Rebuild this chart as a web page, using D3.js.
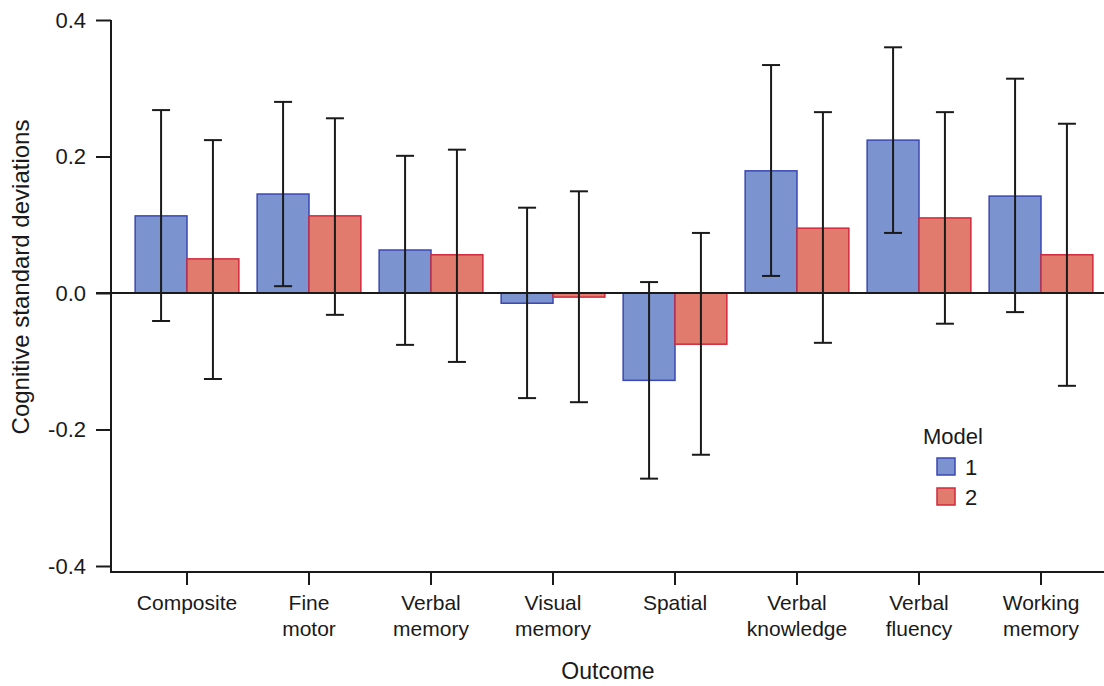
<!DOCTYPE html>
<html lang="en">
  <head>
    <meta charset="utf-8">
    <title>Cognitive outcomes by model</title>
    <style>
      body { margin: 0; background: #fff; }
      svg { display: block; font-family: "Liberation Sans", Arial, sans-serif; }
    </style>
  </head>
  <body>
    <svg id="canvas"></svg>
    <script src="https://cdn.jsdelivr.net/npm/d3@7"></script>
    <script>
      const width = 1104;
      const height = 686;

      // data
      const categories = [
        ["Composite"], ["Fine", "motor"], ["Verbal", "memory"], ["Visual", "memory"],
        ["Spatial"], ["Verbal", "knowledge"], ["Verbal", "fluency"], ["Working", "memory"]
      ];
      const models = ["1", "2"];
      const model1 = [0.113, 0.145, 0.063, -0.015, -0.128, 0.179, 0.224, 0.142];
      const model1Low = [-0.041, 0.010, -0.076, -0.154, -0.272, 0.025, 0.088, -0.028];
      const model1High = [0.268, 0.280, 0.201, 0.125, 0.016, 0.334, 0.360, 0.314];
      const model2 = [0.050, 0.113, 0.056, -0.006, -0.075, 0.095, 0.110, 0.056];
      const model2Low = [-0.126, -0.032, -0.101, -0.160, -0.237, -0.073, -0.045, -0.136];
      const model2High = [0.224, 0.256, 0.210, 0.149, 0.088, 0.265, 0.265, 0.248];
      const yTicks = [-0.4, -0.2, 0.0, 0.2, 0.4];

      const fills = ["#7b93cf", "#e07b6d"];
      const strokes = ["#3b47b2", "#d1283b"];
      const ink = "#1a1a1a";
      const font = "Liberation Sans, Arial, sans-serif";

      const svg = d3.select("#canvas")
        .attr("width", width)
        .attr("height", height);

      const keys = categories.map(d => d.join(" "));

      const x = d3.scaleBand()
        .domain(keys)
        .range([126, 1102])
        .paddingInner(0.15)
        .paddingOuter(0.075);

      const xSub = d3.scaleBand()
        .domain(models)
        .range([0, x.bandwidth()]);

      const y = d3.scaleLinear()
        .domain([-0.4, 0.4])
        .range([566, 20]);

      const rows = keys.map((k, i) => [
        { key: k, model: "1", v: model1[i], lo: model1Low[i], hi: model1High[i] },
        { key: k, model: "2", v: model2[i], lo: model2Low[i], hi: model2High[i] }
      ]).flat();

      // bars
      svg.append("g")
        .selectAll("rect")
        .data(rows)
        .join("rect")
          .attr("x", d => x(d.key) + xSub(d.model))
          .attr("y", d => y(Math.max(0, d.v)))
          .attr("width", xSub.bandwidth())
          .attr("height", d => Math.abs(y(d.v) - y(0)))
          .attr("fill", d => fills[models.indexOf(d.model)])
          .attr("stroke", d => strokes[models.indexOf(d.model)])
          .attr("stroke-width", 1.5);

      // zero line
      svg.append("line")
        .attr("x1", 96).attr("x2", width)
        .attr("y1", y(0)).attr("y2", y(0))
        .attr("stroke", ink).attr("stroke-width", 2);

      // error bars
      const capW = 18;
      const err = svg.append("g")
        .selectAll("g")
        .data(rows)
        .join("g")
          .attr("transform", d => `translate(${x(d.key) + xSub(d.model) + xSub.bandwidth() / 2},0)`)
          .attr("stroke", ink)
          .attr("stroke-width", 2);
      err.append("line")
        .attr("y1", d => y(d.lo)).attr("y2", d => y(d.hi));
      err.append("line")
        .attr("x1", -capW / 2).attr("x2", capW / 2)
        .attr("y1", d => y(d.hi)).attr("y2", d => y(d.hi));
      err.append("line")
        .attr("x1", -capW / 2).attr("x2", capW / 2)
        .attr("y1", d => y(d.lo)).attr("y2", d => y(d.lo));

      // y axis (hyphen minus like the original)
      const yAxis = svg.append("g")
        .attr("transform", "translate(111,0)")
        .call(d3.axisLeft(y).tickValues(yTicks)
          .tickFormat(d => d.toFixed(1).replace("\u2212", "-"))
          .tickSize(15).tickPadding(10));
      yAxis.select(".domain").remove();
      yAxis.selectAll(".tick line").attr("stroke", ink).attr("stroke-width", 2);
      yAxis.selectAll(".tick text").attr("font-size", 22).attr("fill", ink)
        .attr("font-family", font);

      svg.append("line")
        .attr("x1", 111).attr("x2", 111)
        .attr("y1", 20).attr("y2", 572)
        .attr("stroke", ink).attr("stroke-width", 2);

      // x axis
      const xAxis = svg.append("g")
        .attr("transform", "translate(0,572)")
        .call(d3.axisBottom(x).tickSize(13).tickFormat(""));
      xAxis.select(".domain").remove();
      xAxis.selectAll(".tick line").attr("stroke", ink).attr("stroke-width", 2);
      xAxis.selectAll(".tick").each(function(d, i) {
        const t = d3.select(this).append("text")
          .attr("text-anchor", "middle")
          .attr("font-size", 21)
          .attr("fill", ink)
          .attr("font-family", font);
        categories[i].forEach((line, j) => {
          t.append("tspan").attr("x", 0).attr("y", 38 + j * 26).text(line);
        });
      });

      svg.append("line")
        .attr("x1", 110).attr("x2", width)
        .attr("y1", 572).attr("y2", 572)
        .attr("stroke", ink).attr("stroke-width", 2);

      // axis titles
      svg.append("text")
        .attr("x", 608).attr("y", 679)
        .attr("text-anchor", "middle")
        .attr("font-size", 23).attr("fill", ink)
        .text("Outcome");

      svg.append("text")
        .attr("transform", "translate(29,277) rotate(-90)")
        .attr("text-anchor", "middle")
        .attr("font-size", 24).attr("fill", ink)
        .text("Cognitive standard deviations");

      // legend
      const legend = svg.append("g").attr("transform", "translate(937,444)");
      legend.append("text")
        .attr("x", 16).attr("y", 0)
        .attr("text-anchor", "middle")
        .attr("font-size", 22).attr("fill", ink)
        .text("Model");
      models.forEach((m, i) => {
        legend.append("rect")
          .attr("x", 0).attr("y", 14 + i * 30)
          .attr("width", 18).attr("height", 17)
          .attr("fill", fills[i]).attr("stroke", strokes[i]).attr("stroke-width", 1.5);
        legend.append("text")
          .attr("x", 28).attr("y", 31 + i * 30)
          .attr("font-size", 22).attr("fill", ink)
          .text(m);
      });
    </script>
  </body>
</html>
